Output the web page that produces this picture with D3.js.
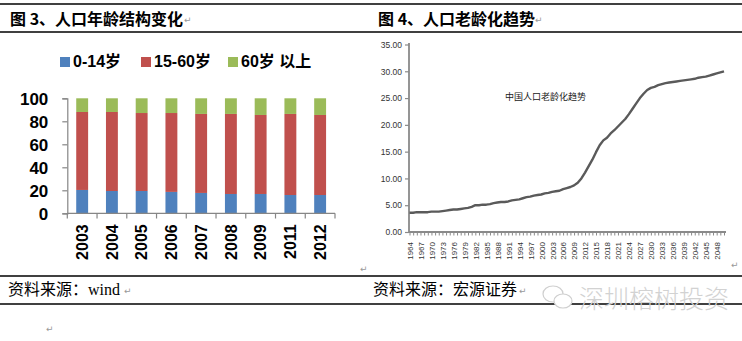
<!DOCTYPE html>
<html>
<head>
<meta charset="utf-8">
<script src="https://cdn.jsdelivr.net/npm/d3@7"></script>
<style>
  html, body { margin: 0; padding: 0; background: #fff; }
  svg { display: block; }
</style>
</head>
<body>
<svg id="chart" width="742" height="341"></svg>
<script>
// ---------- Data: figure 3 (age structure, %) ----------
const barYears = ["2003", "2004", "2005", "2006", "2007", "2008", "2009", "2011", "2012"];
const age0to14  = [20.3, 19.4, 19.4, 18.6, 17.7, 16.8, 16.8, 15.9, 15.9];
const age15to60 = [67.8, 68.7, 67.8, 68.6, 68.7, 69.6, 68.7, 70.5, 69.6];
const age60plus = [11.9, 11.9, 12.8, 12.8, 13.6, 13.6, 14.5, 13.6, 14.5];
const legendLabels = ["0-14岁", "15-60岁", "60岁 以上"];
const barTicks = [0, 20, 40, 60, 80, 100];

// ---------- Data: figure 4 (ageing trend, %) ----------
const lineYears = [
  1964, 1965, 1966, 1967, 1968, 1969, 1970, 1971, 1972, 1973, 1974, 1975, 1976, 1977, 1978, 1979,
  1980, 1981, 1982, 1983, 1984, 1985, 1986, 1987, 1988, 1989, 1990, 1991, 1992, 1993, 1994, 1995,
  1996, 1997, 1998, 1999, 2000, 2001, 2002, 2003, 2004, 2005, 2006, 2007, 2008, 2009, 2010, 2011,
  2012, 2013, 2014, 2015, 2016, 2017, 2018, 2019, 2020, 2021, 2022, 2023, 2024, 2025, 2026, 2027,
  2028, 2029, 2030, 2031, 2032, 2033, 2034, 2035, 2036, 2037, 2038, 2039, 2040, 2041, 2042, 2043,
  2044, 2045, 2046, 2047, 2048, 2049, 2050
];
const ageingRate = [
  3.6, 3.6, 3.7, 3.7, 3.7, 3.7, 3.8, 3.8, 3.8, 3.9, 4.0, 4.1, 4.2, 4.2, 4.3, 4.4,
  4.5, 4.7, 5.0, 5.0, 5.1, 5.1, 5.2, 5.4, 5.5, 5.6, 5.6, 5.7, 5.9, 6.0, 6.1, 6.3,
  6.5, 6.6, 6.8, 6.9, 7.0, 7.2, 7.3, 7.5, 7.6, 7.7, 8.0, 8.2, 8.4, 8.7, 9.2, 10.0,
  11.1, 12.3, 13.5, 14.9, 16.2, 17.1, 17.6, 18.4, 19.0, 19.7, 20.4, 21.1, 22.0, 23.0, 24.0, 25.0,
  25.8, 26.5, 26.9, 27.1, 27.4, 27.6, 27.8, 27.9, 28.0, 28.1, 28.2, 28.3, 28.4, 28.5, 28.6, 28.8,
  28.9, 29.0, 29.2, 29.4, 29.6, 29.8, 30.0
];
const lineTicks = [0, 5, 10, 15, 20, 25, 30, 35];
const lineNote = "中国人口老龄化趋势";

// ---------- Text ----------
const title3 = "图 3、人口年龄结构变化";
const title4 = "图 4、人口老龄化趋势";
const source3 = "资料来源：wind";
const source4 = "资料来源：宏源证券";
const watermark = "深圳榕树投资";

const colors = ["#4F81BD", "#C0504D", "#9BBB59"];
const svg = d3.select("#chart");
const cjkBold = "'Noto Sans CJK SC', sans-serif";
const numFont = "'Liberation Sans', Arial, 'Noto Sans CJK SC', sans-serif";
const serif = "'Liberation Serif', 'Times New Roman', 'Noto Sans CJK SC', serif";

// ---------- Page frame ----------
[4, 32, 276, 304].forEach(y => {
  svg.append("line").attr("x1", 0).attr("x2", 742).attr("y1", y).attr("y2", y)
    .attr("stroke", "#000").attr("stroke-width", 1.4);
});
svg.append("text").attr("x", 10).attr("y", 25).text(title3)
  .attr("font-family", cjkBold).attr("font-weight", "bold").attr("font-size", 16);
svg.append("text").attr("x", 378).attr("y", 25).text(title4)
  .attr("font-family", cjkBold).attr("font-weight", "bold").attr("font-size", 16);
svg.append("text").attr("x", 8).attr("y", 295).text(source3)
  .attr("font-family", serif).attr("font-size", 16);
svg.append("text").attr("x", 373).attr("y", 295).text(source4)
  .attr("font-family", serif).attr("font-size", 16);

// paragraph marks
const marks = [[184, 23], [535, 23], [360, 272], [731, 268], [124, 294], [519, 294], [46, 332]];
marks.forEach(([x, y]) => {
  svg.append("text").attr("x", x).attr("y", y).text("↵")
    .attr("font-family", "'DejaVu Sans', sans-serif").attr("font-size", 9).attr("fill", "#999");
});

// watermark
const wm = svg.append("g").attr("fill", "none").attr("stroke", "#cfcfcf").attr("stroke-width", 1.2);
wm.append("ellipse").attr("cx", 553).attr("cy", 294).attr("rx", 10).attr("ry", 8);
wm.append("ellipse").attr("cx", 563).attr("cy", 301).attr("rx", 9).attr("ry", 7).attr("fill", "#fff");
svg.append("text").attr("x", 579).attr("y", 308).text(watermark)
  .attr("font-family", cjkBold).attr("font-weight", 300).attr("font-size", 25).attr("fill", "#d2d2d2");

// ---------- Figure 3: stacked bars ----------
const stackData = barYears.map((y, i) => ({ year: y, a: age0to14[i], b: age15to60[i], c: age60plus[i] }));
const series = d3.stack().keys(["a", "b", "c"])(stackData);

const xB = d3.scaleBand().domain(barYears).range([67.3, 335]).paddingInner(0.6).paddingOuter(0.3);
const yB = d3.scaleLinear().domain([0, 100]).range([213.3, 98.3]);

const gBars = svg.append("g");
series.forEach((s, si) => {
  gBars.selectAll(null).data(s).enter().append("rect")
    .attr("x", d => xB(d.data.year))
    .attr("width", xB.bandwidth())
    .attr("y", d => yB(d[1]))
    .attr("height", d => yB(d[0]) - yB(d[1]))
    .attr("fill", colors[si]);
});

// y axis
const yAxB = svg.append("g").attr("transform", "translate(67.3,0)")
  .call(d3.axisLeft(yB).tickValues(barTicks).tickSize(5).tickPadding(14));
yAxB.select(".domain").attr("stroke", "#868686").attr("stroke-width", 1.2);
yAxB.selectAll(".tick line").attr("stroke", "#868686").attr("stroke-width", 1.2);
yAxB.selectAll("text").attr("font-family", numFont).attr("font-weight", "bold")
  .attr("font-size", 17).attr("fill", "#000").attr("dy", "0.36em");

// x axis
const xAxB = svg.append("g").attr("transform", "translate(0,213.3)")
  .call(d3.axisBottom(xB).tickSize(0));
xAxB.select(".domain").remove();
xAxB.selectAll("text").attr("font-family", numFont).attr("font-weight", "bold")
  .attr("font-size", 16).attr("fill", "#000")
  .attr("transform", "rotate(-90)").attr("x", -11).attr("y", 0).attr("dy", "0.36em")
  .style("text-anchor", "end");
svg.append("line").attr("x1", 67.3).attr("x2", 335).attr("y1", 213.3).attr("y2", 213.3)
  .attr("stroke", "#868686").attr("stroke-width", 1.2);
const bounds = barYears.map(d => xB(d) - xB.step() * xB.paddingInner() / 2);
bounds.push(xB(barYears[barYears.length - 1]) + xB.bandwidth() + xB.step() * xB.paddingInner() / 2);
svg.append("g").selectAll("line").data(bounds).enter().append("line")
  .attr("x1", d => d).attr("x2", d => d).attr("y1", 213.3).attr("y2", 218.5)
  .attr("stroke", "#868686").attr("stroke-width", 1.2);

// legend
const legX = [60, 141, 228];
legendLabels.forEach((t, i) => {
  svg.append("rect").attr("x", legX[i]).attr("y", 57).attr("width", 10).attr("height", 10).attr("fill", colors[i]);
  svg.append("text").attr("x", legX[i] + 13).attr("y", 66.5).text(t)
    .attr("font-family", numFont).attr("font-weight", "bold").attr("font-size", 16).attr("fill", "#000");
});

// ---------- Figure 4: line ----------
const xL = d3.scalePoint().domain(lineYears).range([409.5, 724]);
const yL = d3.scaleLinear().domain([0, 35]).range([232, 44.5]);
const axisGray = "#8a8a8a";

const yAxL = svg.append("g").attr("transform", "translate(409,0)")
  .call(d3.axisLeft(yL).tickValues(lineTicks).tickFormat(d3.format(".2f")).tickSize(4).tickPadding(3));
yAxL.select(".domain").remove();
yAxL.selectAll(".tick line").attr("stroke", axisGray).attr("stroke-width", 1.2);
yAxL.selectAll("text").attr("font-family", numFont).attr("font-size", 8.5).attr("fill", "#333");
svg.append("line").attr("x1", 409).attr("x2", 409).attr("y1", 43).attr("y2", 232)
  .attr("stroke", axisGray).attr("stroke-width", 1.8);

const xAxL = svg.append("g").attr("transform", "translate(0,232)")
  .call(d3.axisBottom(xL).tickSize(3.5).tickFormat((d, i) => i % 3 === 0 ? d : ""));
xAxL.select(".domain").remove();
xAxL.selectAll(".tick line").attr("stroke", axisGray).attr("stroke-width", 1);
xAxL.selectAll("text").attr("font-family", numFont).attr("font-size", 8).attr("fill", "#333")
  .attr("transform", "rotate(-90)").attr("x", -10).attr("y", 0).attr("dy", "0.36em")
  .style("text-anchor", "end");
svg.append("line").attr("x1", 409).attr("x2", 726).attr("y1", 232).attr("y2", 232)
  .attr("stroke", axisGray).attr("stroke-width", 1.8);

svg.append("path")
  .datum(lineYears.map((y, i) => [y, ageingRate[i]]))
  .attr("fill", "none").attr("stroke", "#5a5a5a").attr("stroke-width", 2.4)
  .attr("stroke-linejoin", "round")
  .attr("d", d3.line().x(d => xL(d[0])).y(d => yL(d[1])));

svg.append("text").attr("x", 505).attr("y", 99.5).text(lineNote)
  .attr("font-family", cjkBold).attr("font-size", 9).attr("fill", "#222");
</script>
</body>
</html>
